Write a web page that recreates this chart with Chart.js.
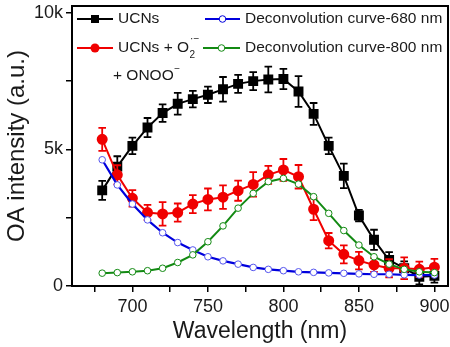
<!DOCTYPE html>
<html><head><meta charset="utf-8">
<script src="https://cdn.jsdelivr.net/npm/chart.js@4"></script>
<style>html,body{margin:0;padding:0;background:#fff}#wrap{width:450px;height:347px;position:relative}</style>
</head><body><div id="wrap"><canvas id="c" width="450" height="347"></canvas></div>
<script>
const wavelengths = [680,690,700,710,720,730,740,750,760,770,780,790,800,810,820,830,840,850,860,870,880,890,900];
const ucns =      [3500,4370,5130,5800,6330,6670,6840,7000,7200,7400,7500,7560,7580,7120,6300,5130,4030,2580,1690,950,650,340,370];
const ucnsErr =   [350,380,300,350,320,400,300,300,450,330,330,470,370,560,400,300,450,210,370,290,250,280,250];
const ucnsRos =   [5370,4070,3210,2690,2640,2690,3000,3170,3250,3490,3720,4070,4250,4000,2810,1660,1160,930,770,650,650,610,690];
const ucnsRosErr= [420,350,300,280,430,330,330,400,430,370,450,330,400,430,400,280,330,320,250,330,400,280,300];
const deconv680 = [4620,3700,3000,2420,1950,1590,1320,1070,920,800,680,610,560,520,500,480,465,445,430,430,410,400,400];
const deconv800 = [470,490,520,560,650,860,1140,1620,2200,2850,3390,3820,3940,3730,3270,2660,2030,1500,1070,800,610,520,490];
const xTickLabels = [700,750,800,850,900];
const yTickLabels = {0:'0',5000:'5k',10000:'10k'};

const FONT = "'Liberation Sans', Arial, sans-serif";
const TXT = '#1a1a1a';
const C_BLACK = '#000000', C_RED = '#f00000', C_BLUE = '#0000dd', C_GREEN = '#138a13';

function pts(arr){ return wavelengths.map((w,i)=>({x:w,y:arr[i]})); }

const errorBars = {
  id:'errorBars',
  beforeDatasetDraw(chart,args){
    const ds = chart.data.datasets[args.index];
    if(!ds.errors) return;
    const xs = chart.scales.x, ys = chart.scales.y, ctx = chart.ctx;
    ctx.save();
    ctx.strokeStyle = ds.borderColor; ctx.lineWidth = 1.8;
    ds.data.forEach((p,i)=>{
      const x = xs.getPixelForValue(p.x);
      const y1 = ys.getPixelForValue(p.y + ds.errors[i]);
      const y2 = ys.getPixelForValue(p.y - ds.errors[i]);
      ctx.beginPath();
      ctx.moveTo(x,y1); ctx.lineTo(x,y2);
      ctx.moveTo(x-3.8,y1); ctx.lineTo(x+3.8,y1);
      ctx.moveTo(x-3.8,y2); ctx.lineTo(x+3.8,y2);
      ctx.stroke();
    });
    ctx.restore();
  }
};

const frame = {
  id:'frame',
  beforeDatasetsDraw(chart){
    const a = chart.chartArea, ctx = chart.ctx;
    ctx.save(); ctx.strokeStyle='#000'; ctx.lineWidth=2;
    ctx.strokeRect(a.left, a.top, a.right-a.left, a.bottom-a.top);
    const xs = chart.scales.x;
    ctx.fillStyle=TXT; ctx.font='18px '+FONT; ctx.textAlign='center'; ctx.textBaseline='alphabetic';
    xTickLabels.forEach(v=>{ ctx.fillText(String(v), xs.getPixelForValue(v), a.bottom+26); });
    ctx.restore();
  }
};

const legendPlugin = {
  id:'customLegend',
  afterDraw(chart){
    const ctx = chart.ctx;
    ctx.save();
    function sample(x1,x2,y,color,lw,marker){
      ctx.strokeStyle=color; ctx.lineWidth=lw;
      ctx.beginPath(); ctx.moveTo(x1,y); ctx.lineTo(x2,y); ctx.stroke();
      const cx=(x1+x2)/2;
      if(marker==='square'){ ctx.fillStyle=color; ctx.fillRect(cx-4,y-4,8,8); }
      else if(marker==='dot'){ ctx.fillStyle=color; ctx.beginPath(); ctx.arc(cx,y,4.5,0,Math.PI*2); ctx.fill(); }
      else { ctx.fillStyle='#fff'; ctx.lineWidth=1; ctx.beginPath(); ctx.arc(cx,y,3.3,0,Math.PI*2); ctx.fill(); ctx.stroke(); }
    }
    sample(77,113,19,C_BLACK,2,'square');
    sample(77,113,48,C_RED,2,'dot');
    sample(205,240,19,C_BLUE,2.2,'open');
    sample(203,240,48,C_GREEN,2,'open');
    ctx.fillStyle=TXT; ctx.textBaseline='middle'; ctx.textAlign='left';
    ctx.font='15.5px '+FONT;
    ctx.fillText('UCNs',118,19);
    ctx.fillText('Deconvolution curve-680 nm',245,19);
    ctx.fillText('Deconvolution curve-800 nm',245,48);
    const t='UCNs + O';
    ctx.fillText(t,118,48);
    let w = ctx.measureText(t).width;
    ctx.font='10px '+FONT;
    ctx.fillText('2',118+w+0.5,55);
    ctx.fillText('\u00B7\u2212',118+w+1,39);
    ctx.font='15.5px '+FONT;
    const t2='+ ONOO';
    ctx.fillText(t2,113,76);
    const w2=ctx.measureText(t2).width;
    ctx.font='10px '+FONT;
    ctx.fillText('\u2212',113+w2+0.5,69);
    ctx.restore();
  }
};

new Chart(document.getElementById('c'),{
  type:'line',
  data:{datasets:[
    {label:'Deconvolution curve-800 nm',data:pts(deconv800),borderColor:C_GREEN,backgroundColor:'#fff',pointBorderColor:C_GREEN,borderWidth:2,pointRadius:3.3,pointBorderWidth:1,pointStyle:'circle',order:1},
    {label:'Deconvolution curve-680 nm',data:pts(deconv680),borderColor:C_BLUE,backgroundColor:'#fff',pointBorderColor:'#5555ee',borderWidth:2.2,pointRadius:3.3,pointBorderWidth:1,pointStyle:'circle',order:2},
    {label:'UCNs + O2·− + ONOO−',data:pts(ucnsRos),errors:ucnsRosErr,borderColor:C_RED,backgroundColor:C_RED,borderWidth:2,pointRadius:4.5,pointStyle:'circle',order:3},
    {label:'UCNs',data:pts(ucns),errors:ucnsErr,borderColor:C_BLACK,backgroundColor:C_BLACK,borderWidth:2,pointRadius:5.6,pointStyle:'rect',order:4}
  ]},
  options:{
    responsive:false, animation:false, devicePixelRatio:1,
    layout:{autoPadding:false,padding:{top:6,right:2,left:0,bottom:0}},
    plugins:{legend:{display:false},tooltip:{enabled:false}},
    scales:{
      x:{type:'linear',min:660,max:909,
        afterBuildTicks(s){ s.ticks=[]; for(let v=675; v<=900; v+=25) s.ticks.push({value:v}); },
        afterFit(s){ s.height=61; },
        grid:{display:true,drawOnChartArea:false,drawTicks:true,tickLength:6,color:'#000',lineWidth:1.5},
        border:{display:false},
        ticks:{display:false,autoSkip:false,maxRotation:0},
        title:{display:true,text:'Wavelength (nm)',color:TXT,font:{family:FONT,size:23},padding:{top:0,bottom:2}}
      },
      y:{type:'linear',min:0,max:10250,
        afterBuildTicks(s){ s.ticks=[]; for(let v=0; v<=10000; v+=2500) s.ticks.push({value:v}); },
        afterFit(s){ s.width=72; s.paddingTop=0; s.paddingBottom=0; },
        grid:{display:true,drawOnChartArea:false,drawTicks:true,tickLength:6,color:'#000',lineWidth:1.5},
        border:{display:false},
        ticks:{autoSkip:false,padding:3,color:TXT,font:{family:FONT,size:18},
          callback(v){ return yTickLabels[v]!==undefined? yTickLabels[v]: ''; }},
        title:{display:true,text:'OA intensity (a.u.)',color:TXT,font:{family:FONT,size:24},padding:{top:3,bottom:0}}
      }
    }
  },
  plugins:[errorBars,frame,legendPlugin]
});
</script></body></html>
